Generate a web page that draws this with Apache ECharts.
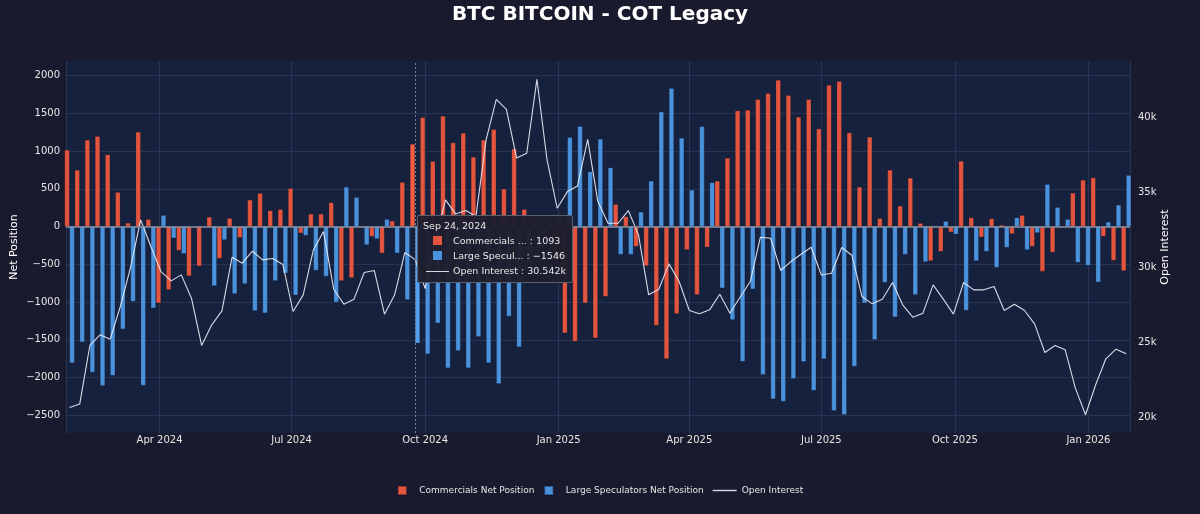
<!DOCTYPE html>
<html>
<head>
<meta charset="utf-8">
<title>BTC BITCOIN - COT Legacy</title>
<script src="https://cdn.jsdelivr.net/npm/echarts@6/dist/echarts.min.js"></script>
<style>
  html, body { margin: 0; padding: 0; background: #1a1a2e; }
  #main { width: 1200px; height: 514px; }
</style>
</head>
<body>
<div id="main"></div>
<script>
// weekly report dates (Tuesdays)
var dates = [
  '2024-01-30','2024-02-06','2024-02-13','2024-02-20','2024-02-27','2024-03-05','2024-03-12','2024-03-19','2024-03-26','2024-04-02',
  '2024-04-09','2024-04-16','2024-04-23','2024-04-30','2024-05-07','2024-05-14','2024-05-21','2024-05-28','2024-06-04','2024-06-11',
  '2024-06-18','2024-06-25','2024-07-02','2024-07-09','2024-07-16','2024-07-23','2024-07-30','2024-08-06','2024-08-13','2024-08-20',
  '2024-08-27','2024-09-03','2024-09-10','2024-09-17','2024-09-24','2024-10-01','2024-10-08','2024-10-15','2024-10-22','2024-10-29',
  '2024-11-05','2024-11-12','2024-11-19','2024-11-26','2024-12-03','2024-12-10','2024-12-17','2024-12-24','2024-12-31','2025-01-07',
  '2025-01-14','2025-01-21','2025-01-28','2025-02-04','2025-02-11','2025-02-18','2025-02-25','2025-03-04','2025-03-11','2025-03-18',
  '2025-03-25','2025-04-01','2025-04-08','2025-04-15','2025-04-22','2025-04-29','2025-05-06','2025-05-13','2025-05-20','2025-05-27',
  '2025-06-03','2025-06-10','2025-06-17','2025-06-24','2025-07-01','2025-07-08','2025-07-15','2025-07-22','2025-07-29','2025-08-05',
  '2025-08-12','2025-08-19','2025-08-26','2025-09-02','2025-09-09','2025-09-16','2025-09-23','2025-09-30','2025-10-07','2025-10-14',
  '2025-10-21','2025-10-28','2025-11-04','2025-11-11','2025-11-18','2025-11-25','2025-12-02','2025-12-09','2025-12-16','2025-12-23',
  '2025-12-30','2026-01-06','2026-01-13','2026-01-20','2026-01-27'
];

var commercials = [
  1015, 750, 1147, 1196, 953, 455, 49, 1253, 97, -1015,
  -838, -318, -657, -525, 128, -424, 110, -146, 353, 441,
  212, 229, 507, -88, 168, 168, 318, -719, -680, 9,
  -132, -353, 75, 587, 1093, 1447, 865, 1465, 1112, 1240,
  922, 1147, 1288, 499, 1030, 229, 100, -150, -450, -1412,
  -1522, -1015, -1478, -927, 296, 132, -265, -521, -1311, -1754,
  -1156, -309, -905, -274, 605, 909, 1536, 1545, 1686, 1765,
  1942, 1739, 1452, 1686, 1297, 1875, 1924, 1244, 525, 1187,
  110, 750, 274, 644, 44, -455, -331, -75, 869, 119,
  -141, 106, 22, -97, 150, -265, -596, -344, 9, 446,
  618, 649, -132, -450, -587
];

var largeSpecs = [
  -1809, -1531, -1933, -2109, -1973, -1359, -993, -2105, -1081, 150,
  -154, -360, 0, 0, -786, -177, -891, -759, -1116, -1147,
  -719, -618, -909, -119, -582, -662, -1002, 525, 388, -243,
  -163, 97, -353, -971, -1546, -1690, -1280, -1875, -1646, -1875,
  -1460, -1809, -2083, -1191, -1597, -500, -300, 80, 120, 1183,
  1328, 728, 1161, 781, -371, -371, 194, 605, 1522, 1831,
  1174, 485, 1328, 583, -816, -1236, -1787, -830, -1964, -2286,
  -2317, -2017, -1792, -2171, -1756, -2440, -2493, -1853, -1015, -1500,
  -741, -1200, -371, -905, -468, 13, 71, -102, -1112, -455,
  -331, -543, -278, 119, -309, -84, 560, 256, 97, -477,
  -516, -737, 62, 287, 680
];

var openInterest = [
  20667, 20889, 24800, 25511, 25222, 27400, 30000, 33177, 31400, 29733,
  29111, 29511, 27955, 24800, 26178, 27111, 30689, 30289, 31089, 30511,
  30600, 30200, 27067, 28178, 31177, 32400, 28555, 27555, 27889, 29666,
  29800, 26889, 28178, 31000, 30542, 28600, 31800, 34511, 33577, 33800,
  33400, 38511, 41222, 40555, 37300, 37622, 42550, 37178, 33955, 35066,
  35444, 38555, 34400, 32955, 32955, 33800, 32177, 28178, 28555, 30244,
  29066, 27133, 26911, 27177, 28222, 26955, 28022, 29066, 32022, 31955,
  29800, 30400, 30889, 31355, 29500, 29622, 31333, 30822, 28066, 27577,
  27889, 29000, 27511, 26689, 26955, 28844, 27889, 26889, 29000, 28511,
  28511, 28733, 27133, 27555, 27133, 26222, 24333, 24800, 24511, 21955,
  20178, 22177, 23911, 24555, 24244
];

// tick labels
var netTicks = [-2500, -2000, -1500, -1000, -500, 0, 500, 1000, 1500, 2000];
var oiTicks = [20000, 25000, 30000, 35000, 40000];
var monthNames = ['Jan','Feb','Mar','Apr','May','Jun','Jul','Aug','Sep','Oct','Nov','Dec'];

var RED = '#e3553e';
var BLUE = '#4a92dc';
var LINE = 'rgba(214,217,226,0.9)';
var GRID = '#2a3452';
var FONT = 'DejaVu Sans';
var DAY = 86400000;

function pairs(values) {
  return dates.map(function (d, i) { return [d, values[i]]; });
}
function signed(v) {
  return v < 0 ? '\u2212' + Math.abs(v) : '' + v;
}
function square(c) {
  return '<span style="display:inline-block;width:9px;height:9px;background:' + c +
         ';margin:0 11px 0 10px;vertical-align:-1px;"></span>';
}
function dash(c) {
  return '<span style="display:inline-block;width:23px;height:0;border-top:1.5px solid ' + c +
         ';margin:0 4px 0 3px;vertical-align:middle;"></span>';
}

var myChart = echarts.init(document.getElementById('main'));

var option = {
  animation: false,
  backgroundColor: '#1a1a2e',
  textStyle: { fontFamily: FONT },
  title: {
    text: 'BTC BITCOIN - COT Legacy',
    left: 'center',
    top: 0,
    textStyle: { color: '#ffffff', fontSize: 20, fontWeight: 'bold', fontFamily: FONT }
  },
  legend: {
    bottom: 13,
    left: 'center',
    itemWidth: 24,
    itemHeight: 9,
    itemGap: 9,
    textStyle: { color: '#e6e6e6', fontSize: 9, fontFamily: FONT },
    data: [
      { name: 'Commercials Net Position', icon: 'path://M0 0H10V10H0Z' },
      { name: 'Large Speculators Net Position', icon: 'path://M0 0H10V10H0Z' },
      { name: 'Open Interest', icon: 'path://M0 0H24V1.4H0Z' }
    ]
  },
  grid: {
    left: 66,
    right: 70,
    top: 61,
    bottom: 81,
    show: true,
    backgroundColor: '#16213e',
    borderWidth: 0
  },
  tooltip: {
    trigger: 'axis',
    alwaysShowContent: true,
    transitionDuration: 0,
    backgroundColor: 'rgba(30,30,46,0.96)',
    borderColor: '#5c5f6e',
    borderWidth: 1,
    padding: [2, 6, 4, 5],
    textStyle: { color: '#e8e8e8', fontSize: 9.5, fontFamily: FONT },
    extraCssText: 'border-radius:2px;box-shadow:none;line-height:15px;',
    axisPointer: {
      type: 'line',
      animation: false,
      lineStyle: { color: '#7c8294', width: 1, type: [2, 2] }
    },
    position: function (point) {
      return [point[0] + 2, 215];
    },
    formatter: function (params) {
      var i = params[0].dataIndex;
      var d = new Date(params[0].axisValue);
      var head = monthNames[d.getMonth()] + ' ' + d.getDate() + ', ' + d.getFullYear();
      return head + '<br/>' +
        square(RED) + 'Commercials ... : ' + signed(commercials[i]) + '<br/>' +
        square(BLUE) + 'Large Specul... : ' + signed(largeSpecs[i]) + '<br/>' +
        dash('#d6d9e2') + 'Open Interest : ' + (openInterest[i] / 1000).toFixed(3) + 'k';
    }
  },
  xAxis: {
    type: 'time',
    // the library pads for bar width on its own; trim a little to match the original span
    min: function (v) { return v.min + 1.0 * DAY; },
    max: function (v) { return v.max - 0.8 * DAY; },
    splitNumber: 8,
    minInterval: 85 * DAY,
    maxInterval: 100 * DAY,
    axisLine: { show: false },
    axisTick: { show: false },
    axisLabel: {
      color: '#e6e6e6',
      fontSize: 10,
      margin: 2,
      showMinLabel: false,
      showMaxLabel: false,
      formatter: function (value) {
        var d = new Date(value);
        return monthNames[d.getMonth()] + ' ' + d.getFullYear();
      }
    },
    splitLine: { show: true, lineStyle: { color: GRID, width: 1 } }
  },
  yAxis: [
    {
      type: 'value',
      min: -2735,
      max: 2193,
      name: 'Net Position',
      nameLocation: 'middle',
      nameGap: 46,
      nameMoveOverlap: false,
      nameTextStyle: { color: '#ffffff', fontSize: 11, fontFamily: FONT },
      axisLine: { show: false },
      axisTick: { show: false, customValues: netTicks },
      axisLabel: {
        customValues: netTicks,
        color: '#e6e6e6',
        fontSize: 10,
        margin: 6,
        formatter: function (v) { return signed(v); }
      },
      splitLine: { show: true, lineStyle: { color: GRID, width: 1 } }
    },
    {
      type: 'value',
      min: 18960,
      max: 43780,
      name: 'Open Interest',
      nameLocation: 'middle',
      nameGap: 30,
      nameMoveOverlap: false,
      nameTextStyle: { color: '#ffffff', fontSize: 11, fontFamily: FONT },
      axisLine: { show: false },
      axisTick: { show: false, customValues: oiTicks },
      axisLabel: {
        customValues: oiTicks,
        color: '#e6e6e6',
        fontSize: 10,
        margin: 8,
        formatter: function (v) { return (v / 1000) + 'k'; }
      },
      splitLine: { show: false }
    }
  ],
  series: [
    {
      name: 'Commercials Net Position',
      type: 'bar',
      yAxisIndex: 0,
      barWidth: 5,
      barGap: '0%',
      itemStyle: { color: RED, borderColor: 'rgba(15,15,35,0.4)', borderWidth: 0.5 },
      data: pairs(commercials),
      markLine: {
        silent: true,
        symbol: ['none', 'none'],
        label: { show: false },
        lineStyle: { color: '#8d93a5', width: 1.5, type: 'solid' },
        data: [{ yAxis: 0 }]
      }
    },
    {
      name: 'Large Speculators Net Position',
      type: 'bar',
      yAxisIndex: 0,
      barWidth: 5,
      barGap: '0%',
      itemStyle: { color: BLUE, borderColor: 'rgba(15,15,35,0.4)', borderWidth: 0.5 },
      data: pairs(largeSpecs)
    },
    {
      name: 'Open Interest',
      type: 'line',
      yAxisIndex: 1,
      symbol: 'none',
      lineStyle: { color: LINE, width: 1.1 },
      itemStyle: { color: '#d6d9e2' },
      data: pairs(openInterest)
    }
  ]
};

myChart.setOption(option);

// hover state shown in the original: Sep 24, 2024
myChart.dispatchAction({ type: 'showTip', seriesIndex: 0, dataIndex: 34 });
</script>
</body>
</html>
